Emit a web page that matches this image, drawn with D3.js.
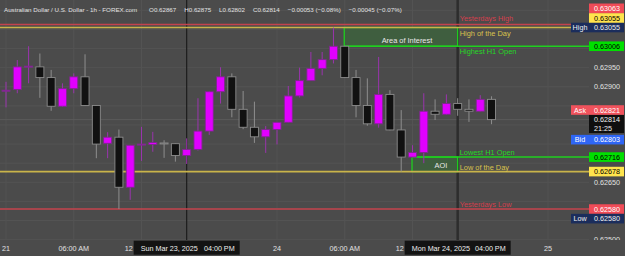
<!DOCTYPE html>
<html lang='en'>
<head>
	<meta charset='UTF-8'/>
	<title>AUD/USD 1h</title>
	<script src='https://cdnjs.cloudflare.com/ajax/libs/d3/7.8.5/d3.min.js'></script>
	<style>
		body {margin: 0; background: #4b4b4b;}
		svg {display: block; font-family: 'Liberation Sans', Arial, sans-serif;}
	</style>
</head>
<body>
	<div class='chart'></div>
	<script>
		// hourly bars: Friday session, then Sunday open onwards
		const sessions = [['2025-03-21T00:00', 16], ['2025-03-23T16:00', 28]];

		const opens  = [0.62890, 0.62893, 0.62953, 0.62952, 0.62924, 0.62849, 0.62895, 0.62926, 0.62851, 0.62752, 0.62768,
		                0.62637, 0.62749, 0.62749, 0.62753, 0.62751, 0.62720, 0.62736, 0.62784, 0.62887, 0.62926, 0.62841,
		                0.62794, 0.62769, 0.62788, 0.62807, 0.62876, 0.62916, 0.62948, 0.62971, 0.63006, 0.62924, 0.62851,
		                0.62803, 0.62880, 0.62787, 0.62716, 0.62728, 0.62836, 0.62828, 0.62856, 0.62841, 0.62836, 0.62867];
		const highs  = [0.62913, 0.62970, 0.63006, 0.62987, 0.62944, 0.62909, 0.62935, 0.62985, 0.62852, 0.62781, 0.62788,
		                0.62747, 0.62795, 0.62782, 0.62760, 0.62752, 0.62765, 0.62870, 0.62888, 0.62951, 0.62935, 0.62889,
		                0.62861, 0.62797, 0.62808, 0.62902, 0.62950, 0.62991, 0.62991, 0.63055, 0.63007, 0.62944, 0.62922,
		                0.62978, 0.62891, 0.62839, 0.62747, 0.62883, 0.62867, 0.62880, 0.62870, 0.62867, 0.62878, 0.62875];
		const lows   = [0.62846, 0.62883, 0.62909, 0.62871, 0.62837, 0.62847, 0.62883, 0.62850, 0.62713, 0.62713, 0.62580,
		                0.62604, 0.62706, 0.62730, 0.62714, 0.62704, 0.62698, 0.62733, 0.62774, 0.62856, 0.62820, 0.62789,
		                0.62753, 0.62727, 0.62749, 0.62806, 0.62872, 0.62915, 0.62930, 0.62961, 0.62923, 0.62820, 0.62798,
		                0.62793, 0.62786, 0.62678, 0.62715, 0.62700, 0.62813, 0.62826, 0.62824, 0.62808, 0.62835, 0.62802];
		const closes = [0.62891, 0.62952, 0.62954, 0.62924, 0.62849, 0.62895, 0.62926, 0.62851, 0.62750, 0.62768, 0.62637,
		                0.62747, 0.62750, 0.62754, 0.62751, 0.62720, 0.62736, 0.62784, 0.62887, 0.62926, 0.62841, 0.62794,
		                0.62769, 0.62788, 0.62807, 0.62876, 0.62916, 0.62948, 0.62971, 0.63006, 0.62924, 0.62851, 0.62803,
		                0.62880, 0.62787, 0.62716, 0.62728, 0.62836, 0.62828, 0.62856, 0.62841, 0.62836, 0.62867, 0.62814];

		// time axis
		const tickTimes  = ['2025-03-21T00:00', '2025-03-21T06:00', '2025-03-21T12:00', '2025-03-24T00:00',
		                    '2025-03-24T06:00', '2025-03-24T12:00', '2025-03-25T00:00'];
		const tickLabels = ['21', '06:00 AM', '12', '24', '06:00 AM', '12', '25'];
		const crosshairTimes = ['2025-03-23T16:00', '2025-03-24T16:00'];

		// horizontal levels
		const levelNames  = ['Yesterdays High', 'High of the Day', 'Highest H1 Open', 'Lowest H1 Open', 'Low of the Day', 'Yesterdays Low'];
		const levelPrices = [0.63063, 0.63055, 0.63006, 0.62716, 0.62678, 0.62580];
		const levelKinds  = ['yday', 'day', 'h1', 'h1', 'day', 'yday'];
		const levelFrom   = [null, null, '2025-03-24T06:00', '2025-03-24T12:00', null, null];

		// zones
		const zoneNames = ['Area of Interest', 'AOI'];
		const zoneFrom  = ['2025-03-24T06:00', '2025-03-24T12:00'];
		const zoneTo    = ['2025-03-24T16:00', '2025-03-24T16:00'];
		const zoneTop   = [0.63055, 0.62716];
		const zoneBot   = [0.63006, 0.62678];

		const ask = 0.62821, bid = 0.62803, countdown = '21:25';
		const title = 'Australian Dollar / U.S. Dollar - 1h - FOREX.com';
		const extraChange = '\u22120.00045 (\u22120.07%)';

		// ---------- layout ----------
		const W = 625, H = 256, paneBottom = 240, paneRight = 589;
		const COL = {
			bg: '#4b4b4b', grid: '#535353', text: '#e2e2e2',
			bull: '#e100ff', bullEdge: '#7d2a8c', bullWick: '#9a34ad',
			bear: '#111111', bearEdge: '#8c8c8c', bearWick: '#8e8e8e',
			yday: '#c4434d', day: '#c9b44a', h1: '#1fcf1f',
			ydayText: '#d5404e', dayText: '#d9c24d', h1Text: '#25d825',
			zone: '#3f5e3f'
		};
		const labelSide = {'Yesterdays High': -5.5, 'High of the Day': 5.5, 'Highest H1 Open': 5.5,
		                   'Lowest H1 Open': -4.5, 'Low of the Day': -4.5, 'Yesterdays Low': -4.5};

		const parse = d3.timeParse('%Y-%m-%dT%H:%M');
		const times = [];
		sessions.forEach(([s, n]) => {
			const t0 = parse(s);
			for (let h = 0; h < n; h++) times.push(d3.timeHour.offset(t0, h));
		});
		const bars = times.map((t, i) => ({t, i, o: opens[i], h: highs[i], l: lows[i], c: closes[i]}));
		const barIndex = s => {
			const d = parse(s);
			const k = times.findIndex(t => +t === +d);
			return k >= 0 ? k : times.length - 1 + (d - times[times.length - 1]) / 3600000;
		};

		const x = d3.scaleLinear().domain([0, 48]).range([6, 548]);
		const y = d3.scaleLinear().domain([0.62499, 0.63127]).range([paneBottom, 0]);
		const fmt = d3.format('.5f');

		const svg = d3.select('.chart').append('svg').attr('width', W).attr('height', H);
		svg.append('rect').attr('width', W).attr('height', H).attr('fill', COL.bg);
		svg.append('clipPath').attr('id', 'pane').append('rect').attr('width', W).attr('height', paneBottom);

		// grid
		const priceTicks = y.ticks(12);
		svg.append('g').selectAll('line').data(priceTicks).join('line')
			.attr('x1', 0).attr('x2', paneRight).attr('y1', d => y(d)).attr('y2', d => y(d))
			.attr('stroke', COL.grid).attr('stroke-width', 1);
		svg.append('g').selectAll('line').data(tickTimes).join('line')
			.attr('x1', d => x(barIndex(d))).attr('x2', d => x(barIndex(d)))
			.attr('y1', 0).attr('y2', paneBottom)
			.attr('stroke', COL.grid).attr('stroke-width', 1);

		// last price line
		svg.append('line').attr('x1', 0).attr('x2', paneRight)
			.attr('y1', y(closes[closes.length - 1])).attr('y2', y(closes[closes.length - 1]))
			.attr('stroke', '#5a5a5a').attr('stroke-width', 1);

		// crosshair verticals
		svg.append('g').selectAll('line').data(crosshairTimes).join('line')
			.attr('x1', d => x(barIndex(d))).attr('x2', d => x(barIndex(d)))
			.attr('y1', 0).attr('y2', paneBottom)
			.attr('stroke', (d, i) => i ? '#2d2d2d' : '#1c1c1c')
			.attr('stroke-width', (d, i) => i ? 2.5 : 1.2);

		// zones
		const zones = zoneNames.map((n, i) => ({n, x0: x(barIndex(zoneFrom[i])) - 0.5, x1: x(barIndex(zoneTo[i])),
			y0: y(zoneTop[i]), y1: y(zoneBot[i])}));
		svg.append('g').selectAll('rect').data(zones).join('rect')
			.attr('x', d => d.x0).attr('y', d => d.y0)
			.attr('width', d => d.x1 - d.x0).attr('height', d => d.y1 - d.y0)
			.attr('fill', COL.zone).attr('stroke', COL.h1).attr('stroke-width', 1.3);

		// levels
		const levels = levelNames.map((n, i) => ({n, p: levelPrices[i], k: levelKinds[i],
			x0: levelFrom[i] ? x(barIndex(levelFrom[i])) - 0.5 : 0}));
		svg.append('g').selectAll('line').data(levels).join('line')
			.attr('x1', d => d.x0).attr('x2', paneRight)
			.attr('y1', d => y(d.p)).attr('y2', d => y(d.p))
			.attr('stroke', d => COL[d.k]).attr('stroke-width', 1.6);

		// candles
		const cg = svg.append('g');
		cg.selectAll('line').data(bars).join('line')
			.attr('x1', d => x(d.i)).attr('x2', d => x(d.i))
			.attr('y1', d => y(d.h)).attr('y2', d => y(d.l))
			.attr('stroke', d => d.c >= d.o ? COL.bullWick : COL.bearWick).attr('stroke-width', 1);
		cg.selectAll('rect').data(bars).join('rect')
			.attr('x', d => x(d.i) - 4).attr('width', 8)
			.attr('y', d => y(Math.max(d.o, d.c)))
			.attr('height', d => Math.max(1, Math.abs(y(d.o) - y(d.c))))
			.attr('fill', d => d.c >= d.o ? COL.bull : COL.bear)
			.attr('stroke', d => d.c >= d.o ? COL.bullEdge : COL.bearEdge).attr('stroke-width', 0.9);

		// zone texts
		svg.append('g').selectAll('text').data(zones).join('text')
			.attr('x', d => (d.x0 + d.x1) / 2 + 6).attr('y', d => d.y1 - 3.5)
			.attr('text-anchor', 'middle').attr('font-size', 7.4).attr('fill', '#e8e8e8')
			.text(d => d.n);

		// level texts
		const labelX = x(barIndex(zoneTo[0])) + 2;
		svg.append('g').selectAll('text').data(levels).join('text')
			.attr('x', labelX).attr('y', d => y(d.p) + labelSide[d.n])
			.attr('dominant-baseline', 'central').attr('font-size', 7.4)
			.attr('fill', d => COL[d.k + 'Text']).text(d => d.n);

		// price axis tags, stacked so they do not overlap
		const hi = d3.max(highs), lo = d3.min(lows), last = closes[closes.length - 1];
		const tags = [
			{p: last, v: fmt(last), sub: countdown, bg: '#0f0f0f', fg: '#f0f0f0'},
			{p: hi, v: fmt(hi), tag: 'High', bg: '#1b2d5c', fg: '#f0f0f0'},
			{p: levelPrices[5], v: fmt(levelPrices[5]), bg: '#f04b57', fg: '#ffffff'},
			{p: levelPrices[3], v: fmt(levelPrices[3]), bg: '#00e000', fg: '#000000'},
			{p: levelPrices[4], v: fmt(levelPrices[4]), bg: '#ffe44d', fg: '#000000'},
			{p: levelPrices[2], v: fmt(levelPrices[2]), bg: '#00e000', fg: '#000000'},
			{p: levelPrices[1], v: fmt(levelPrices[1]), bg: '#ffe44d', fg: '#000000'},
			{p: levelPrices[0], v: fmt(levelPrices[0]), bg: '#f04b57', fg: '#ffffff'},
			{p: ask, v: fmt(ask), tag: 'Ask', bg: '#f0525c', fg: '#ffffff'},
			{p: bid, v: fmt(bid), tag: 'Bid', bg: '#2f66f5', fg: '#ffffff'},
			{p: lo, v: fmt(lo), tag: 'Low', bg: '#1b2d5c', fg: '#f0f0f0'}
		];
		const lineH = 9.6, placed = [];
		tags.forEach(t => {
			const yc = y(t.p), h = t.sub ? lineH * 1.9 : lineH, room = t.sub ? h + 1.8 : h;
			let top = yc - lineH / 2, dir = 0, hit = true;
			while (hit) {
				hit = false;
				for (const p of placed) {
					if (top < p.top + p.room - 0.01 && top + room > p.top + 0.01) {
						if (!dir) dir = yc < p.yc || (yc === p.yc && yc < paneBottom / 2) ? -1 : 1;
						top = dir < 0 ? p.top - room : p.top + p.room;
						hit = true;
					}
				}
			}
			Object.assign(t, {yc, h, room, top});
			placed.push(t);
		});

		// price axis grid labels (clipped to pane, skipped where a tag sits on them)
		const free = d => !tags.some(t => Math.min(y(d) + 3.5, t.top + t.h) - Math.max(y(d) - 3.5, t.top) > 0.5);
		svg.append('g').attr('clip-path', 'url(#pane)')
			.selectAll('text').data(priceTicks.filter(free)).join('text')
			.attr('x', paneRight + 5).attr('y', d => y(d)).attr('dominant-baseline', 'central')
			.attr('font-size', 7.2).attr('fill', COL.text).text(fmt);

		const tg = svg.append('g').selectAll('g').data(tags).join('g');
		tg.append('rect').attr('x', paneRight).attr('y', d => d.top).attr('width', W - paneRight - 1).attr('height', d => d.h)
			.attr('fill', d => d.bg);
		tg.append('text').attr('x', paneRight + 5).attr('y', d => d.top + lineH / 2 + 0.3)
			.attr('dominant-baseline', 'central').attr('font-size', 7.2).attr('fill', d => d.fg).text(d => d.v);
		tg.filter(d => d.sub).append('text').attr('x', paneRight + 5).attr('y', d => d.top + lineH * 1.4)
			.attr('dominant-baseline', 'central').attr('font-size', 7.2).attr('fill', d => d.fg).text(d => d.sub);
		const tagged = tg.filter(d => d.tag);
		tagged.append('rect').attr('x', paneRight - 18).attr('y', d => d.top).attr('width', 18).attr('height', d => d.h)
			.attr('fill', d => d.bg);
		tagged.append('text').attr('x', paneRight - 9).attr('y', d => d.top + lineH / 2 + 0.3)
			.attr('text-anchor', 'middle').attr('dominant-baseline', 'central').attr('font-size', 7.2)
			.attr('fill', d => d.fg).text(d => d.tag);

		// time axis labels
		const tipW = 106;
		const tips = crosshairTimes.map(s => ({cx: x(barIndex(s)), d: parse(s)}));
		svg.append('g').selectAll('text').data(tickTimes).join('text')
			.each(function (d, i) {
				const cx = x(barIndex(d));
				const tip = tips.find(t => Math.abs(t.cx - cx) < tipW / 2 + 8);
				d3.select(this)
					.attr('x', tip ? tip.cx - tipW / 2 - 1 : cx)
					.attr('text-anchor', tip ? 'end' : 'middle');
			})
			.attr('y', 248).attr('dominant-baseline', 'central').attr('font-size', 7.2)
			.attr('fill', COL.text).text((d, i) => tickLabels[i]);

		// crosshair time tooltips
		const tt = svg.append('g').selectAll('g').data(tips).join('g');
		tt.append('rect').attr('x', d => d.cx - tipW / 2).attr('y', paneBottom + 0.7)
			.attr('width', tipW).attr('height', 14).attr('fill', '#131313');
		tt.append('text').attr('x', d => d.cx - tipW / 2 + 7).attr('y', 248)
			.attr('dominant-baseline', 'central').attr('font-size', 7.2).attr('fill', '#eeeeee')
			.text(d => d3.timeFormat('%a %b %d, %Y')(d.d));
		tt.append('text').attr('x', d => d.cx + tipW / 2 - 5).attr('y', 248).attr('text-anchor', 'end')
			.attr('dominant-baseline', 'central').attr('font-size', 7.2).attr('fill', '#eeeeee')
			.text(d => d3.timeFormat('%I:%M %p')(d.d));

		// legend line at the top
		const n = closes.length, chg = closes[n - 1] - closes[n - 2];
		const minus = v => v < 0 ? '\u2212' + Math.abs(v).toFixed(5) : '+' + v.toFixed(5);
		const pieces = [title, 'O' + fmt(opens[n - 1]), 'H' + fmt(highs[n - 1]), 'L' + fmt(lows[n - 1]),
			'C' + fmt(closes[n - 1]),
			minus(chg) + ' (' + (chg < 0 ? '\u2212' : '+') + Math.abs(chg / closes[n - 2] * 100).toFixed(2) + '%)',
			extraChange];
		let tx = 4;
		pieces.forEach((s, i) => {
			const t = svg.append('text').attr('x', tx).attr('y', 9).attr('dominant-baseline', 'central')
				.attr('font-size', 6.2).attr('fill', COL.text).text(s);
			tx += t.node().getComputedTextLength() + (i === 0 ? 12 : 8);
		});
	</script>
</body>
</html>
